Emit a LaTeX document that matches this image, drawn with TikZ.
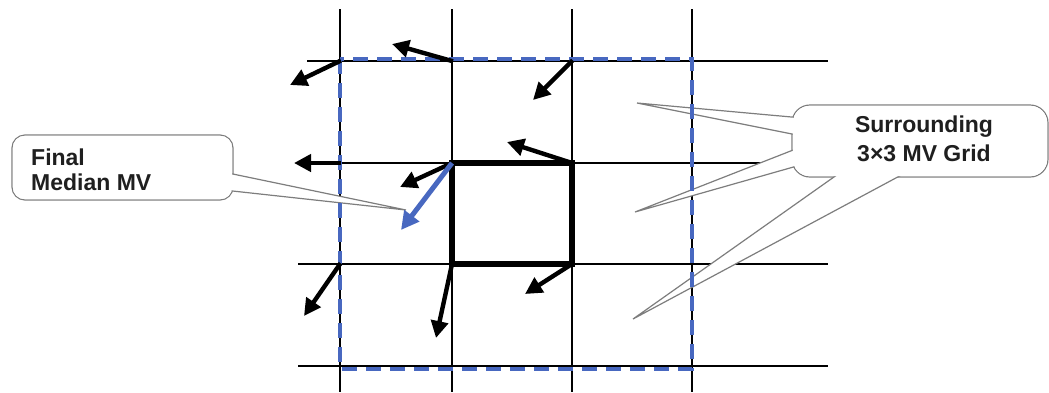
\documentclass[tikz,border=0pt]{standalone}
\usepackage{fontspec}
\setmainfont{Liberation Sans}
\usetikzlibrary{arrows.meta}
\definecolor{mvblue}{RGB}{72,104,192}
\definecolor{callgray}{RGB}{125,125,125}
\tikzset{
  gridline/.style={line width=1.7pt,black},
  mvarrow/.style={line width=4.4pt,black,-{Triangle[length=17pt,width=17pt]},shorten <=-1pt},
  bluearrow/.style={line width=5pt,mvblue,-{Triangle[length=18pt,width=18pt]}},
  callshape/.style={draw=callgray,fill=white,line width=1.2pt},
  callfill/.style={fill=white,draw=none},
  calltext/.style={inner sep=0pt,text=black!88}
}
\begin{document}
\begin{tikzpicture}[x=1pt,y=-1pt]
\useasboundingbox (0,0) rectangle (1049,392);
% grid intersections
\foreach \i/\x in {0/340,1/452,2/572,3/692}{
  \foreach \j/\y in {0/61,1/163,2/264,3/366}{
    \coordinate (g\i\j) at (\x,\y);
  }
}
% grid lines
\foreach \x in {340,452,572,692}{
  \draw[gridline] (\x,9) -- (\x,392);
}
\draw[gridline] (307,61) -- (828,61);
\foreach \y in {163,264,366}{
  \draw[gridline] (298,\y) -- (828,\y);
}
% left callout
\draw[callshape,rounded corners=13pt] (12,135) rectangle (233,200);
\draw[callshape] (228,173) -- (406,210) -- (228,190.5);
\fill[callfill,rounded corners=12pt] (12.8,135.8) rectangle (232.2,199.2);
\node[calltext,anchor=north west,align=left,font=\bfseries\fontsize{23}{24.5}\selectfont] (finaltxt) at (31,149) {Final\\Median MV};
% right callout
\draw[callshape,rounded corners=18pt] (792,105) rectangle (1048,177);
\draw[callshape] (797,117.5) -- (637,103) -- (797,135);
\draw[callshape] (797,148.5) -- (635,212) -- (797,166);
\draw[callshape] (841,172) -- (633,319) -- (907,172);
\fill[callfill,rounded corners=17pt] (792.8,105.8) rectangle (1047.2,176.2);
\node[calltext,anchor=north,align=center,font=\bfseries\fontsize{23}{29}\selectfont] (gridtxt) at (924,116) {Surrounding\\3\texttimes3 MV Grid};
% blue dashed 3x3 boundary
\draw[mvblue,line width=3.6pt,dash pattern=on 15pt off 9pt] (340,59) rectangle (692,369);
% bold centre block
\draw[line width=5.4pt,black,line join=miter] (g11) rectangle (g22);
% motion vectors
\coordinate (t00) at (290,85);
\coordinate (t10) at (392,44);
\coordinate (t20) at (533,100);
\coordinate (t01) at (294,163);
\coordinate (t11) at (400,187);
\coordinate (t21) at (507,142);
\coordinate (tb) at (401,230);
\coordinate (t02) at (304,316);
\coordinate (t12) at (436,338);
\coordinate (t22) at (525,294);
\draw[mvarrow] (g00) -- (t00);
\draw[mvarrow] (g10) -- (t10);
\draw[mvarrow] (g20) -- (t20);
\draw[mvarrow] (g01) -- (t01);
\draw[mvarrow] (g11) -- (t11);
\draw[mvarrow] (g21) -- (t21);
\draw[mvarrow] (g02) -- (t02);
\draw[mvarrow] (g12) -- (t12);
\draw[mvarrow] (g22) -- (t22);
\draw[bluearrow] (g11) -- (tb);
\end{tikzpicture}
\end{document}
